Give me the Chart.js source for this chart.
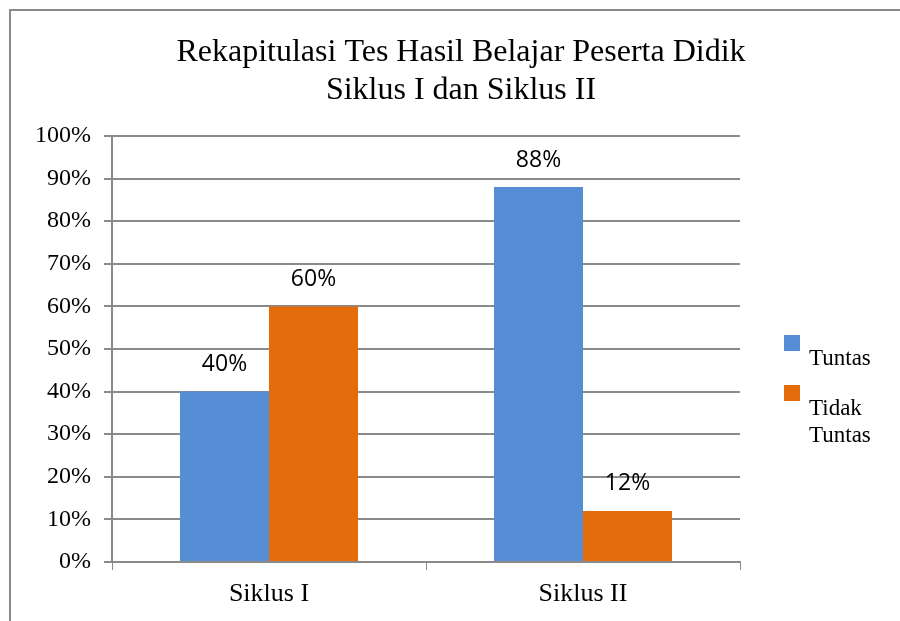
<!DOCTYPE html>
<html>
<head>
<meta charset="utf-8">
<script src="https://cdn.jsdelivr.net/npm/chart.js@4"></script>
<style>
  html, body { margin: 0; padding: 0; background: #fff; }
  #wrap { position: relative; width: 900px; height: 621px; overflow: hidden; }
  #frame { position: absolute; left: 9px; top: 9px; width: 900px; height: 620px;
           border-left: 2px solid #8a8a8a; border-top: 2px solid #8a8a8a; }
  #legend { position: absolute; left: 0; top: 0; font-family: "Liberation Serif", serif;
            font-size: 23px; color: #000; line-height: 27px; }
  .box { position: absolute; width: 16px; height: 16px; }
  .txt { position: absolute; white-space: nowrap; }
</style>
</head>
<body>
<div id="wrap">
  <div id="frame"></div>
  <canvas id="chart" width="900" height="621"></canvas>
  <div id="legend"></div>
</div>
<script>
document.addEventListener('DOMContentLoaded', () => {
    const titleLines = ['Rekapitulasi Tes Hasil Belajar Peserta Didik', 'Siklus I dan Siklus II'];
    const categories = ['Siklus I', 'Siklus II'];
    const seriesNames = ['Tuntas', 'Tidak Tuntas'];
    const tuntas = [40, 88];
    const tidakTuntas = [60, 12];
    const colors = ['#558ED5', '#E46C0A'];

    // legend as html, "Tidak Tuntas" wraps like the original
    const legend = document.getElementById('legend');
    const boxTops = [335, 385];
    seriesNames.forEach((name, i) => {
        const label = name === 'Tidak Tuntas' ? 'Tidak<br>Tuntas' : name;
        legend.innerHTML += `<span class="box" style="left:784px;top:${boxTops[i]}px;background:${colors[i]}"></span>`;
        legend.innerHTML += `<span class="txt" style="left:809px;top:${boxTops[i] + 9}px">${label}</span>`;
    });

    const titlePlugin = {
        id: 'twoLineTitle',
        afterDraw(chart) {
            const ctx = chart.ctx;
            ctx.save();
            ctx.fillStyle = '#000';
            ctx.font = '32px "Liberation Serif", serif';
            ctx.textAlign = 'center';
            ctx.textBaseline = 'middle';
            ctx.fillText(titleLines[0], 461, 53);
            ctx.fillText(titleLines[1], 461, 91);
            ctx.restore();
        }
    };

    const valueLabels = {
        id: 'valueLabels',
        afterDatasetsDraw(chart) {
            const ctx = chart.ctx;
            ctx.save();
            ctx.fillStyle = '#000';
            ctx.font = '23px "Open Sans", "Liberation Sans", sans-serif';
            ctx.textAlign = 'center';
            ctx.textBaseline = 'middle';
            chart.data.datasets.forEach((ds, di) => {
                chart.getDatasetMeta(di).data.forEach((bar, i) => {
                    ctx.fillText(ds.data[i] + '%', bar.x, bar.y - 27);
                });
            });
            ctx.restore();
        }
    };

    new Chart(document.getElementById('chart'), {
        type: 'bar',
        data: {
            labels: categories,
            datasets: [
                { label: seriesNames[0], data: tuntas, backgroundColor: colors[0] },
                { label: seriesNames[1], data: tidakTuntas, backgroundColor: colors[1] }
            ]
        },
        options: {
            responsive: false,
            animation: false,
            layout: { padding: { top: 136, right: 160, bottom: 0, left: 0 } },
            datasets: { bar: { categoryPercentage: 0.567, barPercentage: 1.0 } },
            plugins: { legend: { display: false }, tooltip: { enabled: false } },
            scales: {
                x: {
                    grid: { drawOnChartArea: false, drawTicks: true, tickLength: 8, color: '#8a8a8a', offset: true },
                    border: { color: '#8a8a8a', width: 2 },
                    ticks: { color: '#000', padding: 9, font: { family: '"Liberation Serif", serif', size: 26 } },
                    afterFit(scale) { scale.height = 59; }
                },
                y: {
                    min: 0, max: 100,
                    grid: { color: '#8a8a8a', lineWidth: 2, tickLength: 8 },
                    border: { color: '#8a8a8a', width: 2 },
                    ticks: {
                        stepSize: 10, color: '#000', padding: 13,
                        font: { family: '"Liberation Serif", serif', size: 24 },
                        callback: (v) => v + '%'
                    },
                    afterFit(scale) { scale.width = 112; }
                }
            }
        },
        plugins: [titlePlugin, valueLabels]
    });
});
</script>
</body>
</html>
